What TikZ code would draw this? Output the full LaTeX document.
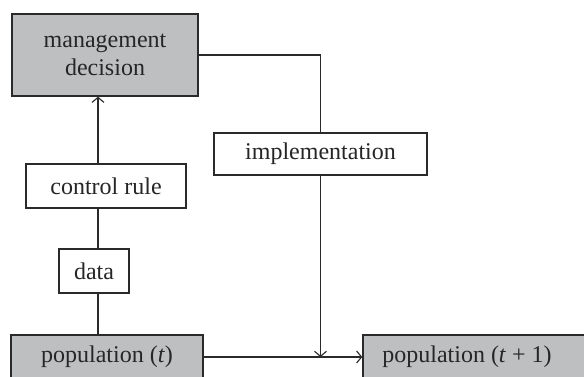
\documentclass[tikz,border=0pt]{standalone}
\usepackage{fontspec}
\setmainfont{Liberation Serif}
\usetikzlibrary{arrows.meta}
\definecolor{box-grau}{HTML}{BEBFC1}
\definecolor{linie}{HTML}{2B2A2B}
\begin{document}
\begin{tikzpicture}[x=1pt,y=1pt,
    box/.style={draw=linie, line width=1.4pt, fill=white, text=linie!90!black, inner sep=0pt,
      minimum height=44pt, font=\fontsize{24}{28}\selectfont, align=center},
    shaded/.style={box, fill=box-grau},
    flow/.style={draw=linie, line width=1.2pt},
    tip/.style={-{Straight Barb[length=5pt,width=12pt,line width=1.1pt]}}]
    \useasboundingbox (0,0) rectangle (584,376);
    \clip (0,0) rectangle (584,376);
    % boxes
    \node[shaded, minimum width=186pt, minimum height=82pt] (mgmt) at (105,321) {management\\decision};
    \node[box, minimum width=160pt] (ctrl) at (106,190) {control rule};
    \node[box, minimum width=70pt] (data) at (94,105) {data};
    \node[box, minimum width=213pt, minimum height=42pt] (impl) at (320.5,222) {implementation};
    \node[shaded, minimum width=192pt] (popt) at (107,19) {population (\textit{t})};
    \node[shaded, minimum width=226pt] (popt1) at (476,19) {\hspace*{-18pt}population (\textit{t} + 1)};
    % connectors
    \coordinate (spine) at (98,0);
    \draw[flow] (spine |- popt.north) -- (spine |- data.south);
    \draw[flow] (spine |- data.north) -- (spine |- ctrl.south);
    \draw[flow, tip] (spine |- ctrl.north) -- (spine |- mgmt.south);
    \draw[flow] (mgmt.east) -| (impl.north);
    \draw[flow, tip] (impl.south) -- (impl.south |- popt.east);
    \draw[flow, tip] (popt.east) -- (popt1.west);
  \end{tikzpicture}
\end{document}
